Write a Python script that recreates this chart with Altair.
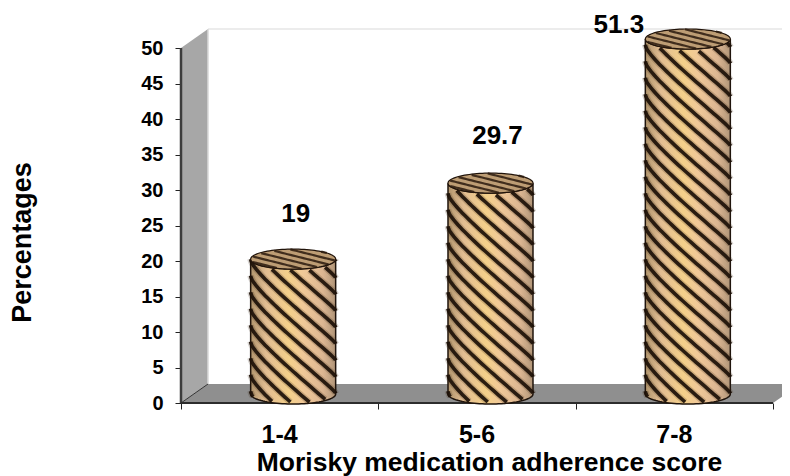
import numpy as np
import pandas as pd
import altair as alt

categories = ["1-4", "5-6", "7-8"]
values = [19.0, 29.7, 51.3]
y_ticks = [0, 5, 10, 15, 20, 25, 30, 35, 40, 45, 50]
y_title = "Percentages"
x_title = "Morisky medication adherence score"

FONT = "Liberation Sans"
W, H = 601, 395
PX_X = 197.33       # pixels per category
PX_Y = 7.1          # pixels per percentage point
X_MAX = W / PX_X
Y_MAX = H / PX_Y
AXIS_MAX = 50
DX, DY = 27 / PX_X, 19 / PX_Y   # 3-D depth of the box
R = 42.5                        # cylinder radius, px
B = 10.0                        # ellipse half height, px

x_scale = alt.Scale(domain=[0, X_MAX], nice=False, zero=False)
y_scale = alt.Scale(domain=[0, Y_MAX], nice=False, zero=False)
x_axis = alt.Axis(
    values=[0, 1, 2, 3], labels=False, domain=False, grid=False, ticks=True, tickSize=6,
    tickColor="#222222", title=x_title, titleFont=FONT, titleFontSize=26.5, titleFontWeight="bold",
    titleColor="#000000", titleX=308, titleY=67, titleBaseline="alphabetic", titleAlign="center")
y_axis = alt.Axis(
    values=y_ticks, domain=False, grid=False, tickSize=6, tickColor="#222222", labelPadding=12,
    labelFont=FONT, labelFontSize=20, labelFontWeight="bold", labelColor="#000000",
    title=y_title, titleFont=FONT, titleFontSize=27, titleFontWeight="bold", titleColor="#000000",
    titleX=-151, titleY=234, titleBaseline="alphabetic", titleAlign="center")
X = lambda f="x": alt.X(f"{f}:Q", scale=x_scale, axis=x_axis)
Y = lambda f="y": alt.Y(f"{f}:Q", scale=y_scale, axis=y_axis)

# ---------- box of the 3-D chart ----------
side = pd.DataFrame({"x": [0, DX], "y": [AXIS_MAX, AXIS_MAX + DY], "y2": [0, DY]})
floor = pd.DataFrame({"x": [0, DX, 3, X_MAX],
                      "y": [0, DY, DY, DY],
                      "y2": [0, 0, 0, (X_MAX - 3) * DY / DX]})
side_layer = alt.Chart(side).mark_area(color="#a7a7a7").encode(X(), Y(), y2="y2:Q")
floor_layer = alt.Chart(floor).mark_area(color="#8f8f8f").encode(X(), Y(), y2="y2:Q")
wall_top = alt.Chart(pd.DataFrame({"x": [DX], "x2": [X_MAX], "y": [AXIS_MAX + DY]})).mark_rule(
    color="#ececec", strokeWidth=2).encode(X(), Y(), x2="x2:Q")
wall_left = alt.Chart(pd.DataFrame({"x": [DX], "y": [DY], "y2": [AXIS_MAX + DY]})).mark_rule(
    color="#d8d8d8", strokeWidth=1.5).encode(X(), Y(), y2="y2:Q")
y_line = alt.Chart(pd.DataFrame({"x": [0], "y": [0], "y2": [AXIS_MAX]})).mark_rule(
    color="#3c3c3c", strokeWidth=2.5).encode(X(), Y(), y2="y2:Q")
x_line = alt.Chart(pd.DataFrame({"x": [0], "x2": [3], "y": [0]})).mark_rule(
    color="#2c2c2c", strokeWidth=2).encode(X(), Y(), x2="x2:Q")
floor_edge = alt.Chart(pd.DataFrame({"x": [0, DX], "y": [0, DY]})).mark_line(
    color="#333333", strokeWidth=1).encode(X(), Y())

# ---------- cylinders ----------
body_rows, top_rows, stripe_rows, cap_rows = [], [], [], []
theta = np.linspace(-np.pi / 2, np.pi / 2, 49)
u = np.sin(theta)
sep = 16.5
for i, v in enumerate(values):
    shown = min(v, AXIS_MAX)
    cx_px = (i + 0.5) * PX_X + 13.5
    base_c = 9.0            # base-centre height above axis zero, px
    top_c = base_c + shown * PX_Y
    xs = (cx_px + R * u) / PX_X
    arc = B * np.cos(theta)
    for a, b_, c in zip(xs, top_c - arc, base_c - arc):
        body_rows.append({"id": i, "x": a, "y": b_ / PX_Y, "y2": c / PX_Y})
    for a, c in zip(xs, arc):
        top_rows.append({"id": i, "x": a, "y": (top_c + c) / PX_Y, "y2": (top_c - c) / PX_Y})
    # helical stripes on the body
    k = 0
    for start in np.arange(-80, top_c + 80, sep):
        h = start - 0.7 * R * u - 8 * theta - 0.4 * arc
        low, high = base_c - arc, top_c - arc
        keep = (h >= low) & (h <= high)
        for a, y in zip(xs[keep], h[keep]):
            stripe_rows.append({"id": f"{i}-{k}", "x": a, "y": y / PX_Y})
        k += 1
    # stripes on the cap
    k = 0
    for start in np.arange(-24, 26, 5.5):
        h = start - 0.25 * R * u
        keep = np.abs(h) <= arc
        for a, y in zip(xs[keep], h[keep]):
            cap_rows.append({"id": f"{i}-{k}", "x": a, "y": (top_c + y) / PX_Y})
        k += 1

body = pd.DataFrame(body_rows)
tops = pd.DataFrame(top_rows)
stripes = pd.DataFrame(stripe_rows)
caps = pd.DataFrame(cap_rows)

shade = alt.LinearGradient(
    gradient="linear", x1=0, x2=1, y1=0, y2=0,
    stops=[alt.GradientStop(color="#b0946c", offset=0),
           alt.GradientStop(color="#e2bd92", offset=0.18),
           alt.GradientStop(color="#f4d08a", offset=0.45),
           alt.GradientStop(color="#f0c898", offset=0.62),
           alt.GradientStop(color="#dcb692", offset=0.85),
           alt.GradientStop(color="#b09578", offset=1)])

body_layer = alt.Chart(body).mark_area(fill=shade, stroke="#1f140c", strokeWidth=1.5).encode(
    X(), Y(), y2="y2:Q", detail="id:N")
stripe_soft = alt.Chart(stripes).mark_line(color="#3a2614", strokeWidth=6.5, opacity=0.2).encode(
    X(), Y(), detail="id:N")
stripe_layer = alt.Chart(stripes).mark_line(color="#1c1008", strokeWidth=3.6, opacity=0.92).encode(
    X(), Y(), detail="id:N")
top_layer = alt.Chart(tops).mark_area(color="#bd9d74", stroke="#20130a", strokeWidth=1.2).encode(
    X(), Y(), y2="y2:Q", detail="id:N")
cap_layer = alt.Chart(caps).mark_line(color="#2a1a0e", strokeWidth=2.2, opacity=0.85).encode(
    X(), Y(), detail="id:N")

# ---------- text ----------
cat_df = pd.DataFrame({"label": categories, "x": [0.5, 1.5, 2.5], "y": [-40 / PX_Y] * 3})
cat_layer = alt.Chart(cat_df).mark_text(
    font=FONT, fontSize=25, fontWeight="bold", color="#000000", baseline="alphabetic", align="center"
).encode(X(), Y(), text="label:N")

label_shift = [2.5, 7, -69]
label_gap = [45, 47, 5]
lab_df = pd.DataFrame({
    "label": [f"{v:g}" for v in values],
    "x": [((i + 0.5) * PX_X + 13.5 + s) / PX_X for i, s in enumerate(label_shift)],
    "y": [(9 + min(v, AXIS_MAX if i < 2 else v) * PX_Y + g) / PX_Y
          for i, (v, g) in enumerate(zip(values, label_gap))],
})
lab_layer = alt.Chart(lab_df).mark_text(
    font=FONT, fontSize=26, fontWeight="bold", color="#000000", baseline="middle", align="center"
).encode(X(), Y(), text="label:N")

chart = alt.layer(
    side_layer, floor_layer, wall_top, wall_left, floor_edge, y_line, x_line,
    body_layer, stripe_soft, stripe_layer, top_layer, cap_layer, cat_layer, lab_layer,
).properties(
    width=W, height=H,
    padding={"left": 173, "top": 0, "right": 0, "bottom": 73},
    autosize=alt.AutoSizeParams(type="none"),
    background="white",
).configure_view(stroke=None)

chart.save("out.html", embed_options={"renderer": "svg", "actions": False})
